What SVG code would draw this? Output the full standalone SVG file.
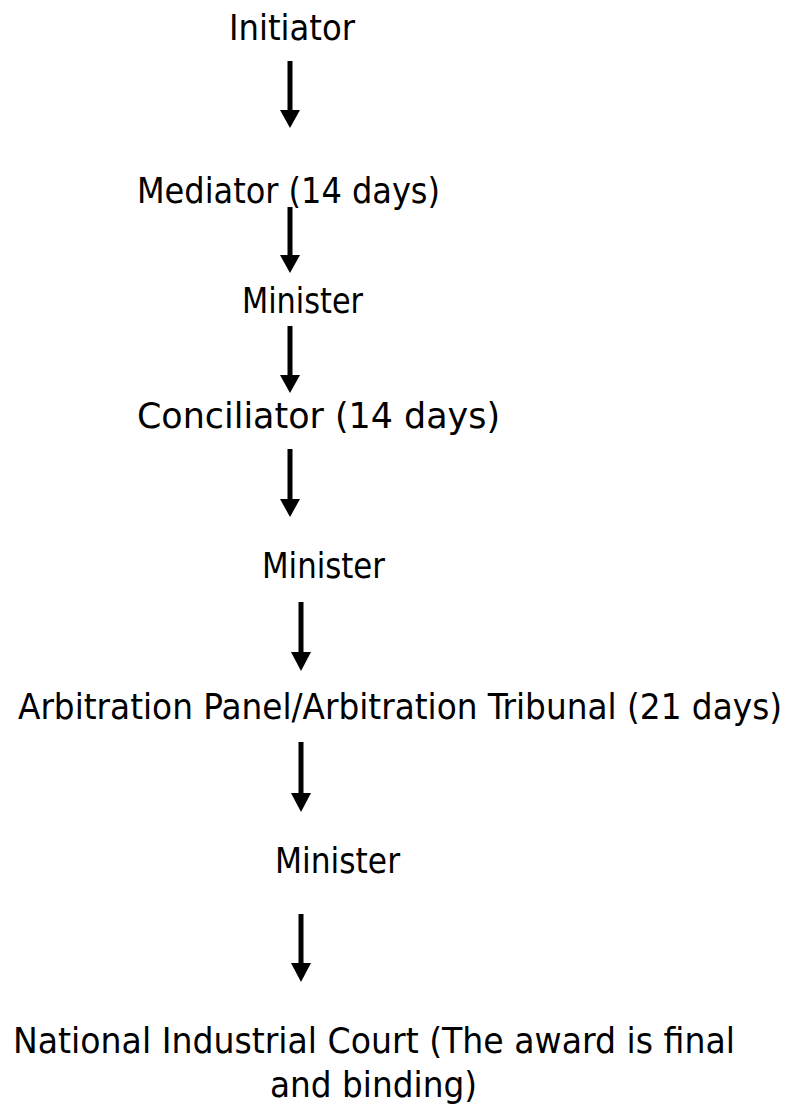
<svg xmlns="http://www.w3.org/2000/svg" width="796" height="1113" viewBox="0 0 796 1113">
<style>
text{font-family:"DejaVu Sans Condensed","DejaVu Sans","Liberation Sans",sans-serif;font-stretch:condensed;font-size:35px;fill:#000}
.shaft{stroke:#000;stroke-width:5;fill:none}
.head{fill:#000;stroke:none}
</style>
<rect width="796" height="1113" fill="#fff"/>
<g id="connectors">
<g id="a1"><line class="shaft" x1="290" y1="61" x2="290" y2="112"/><polygon class="head" points="280,110 300,110 290,128"/></g>
<g id="a2"><line class="shaft" x1="290" y1="207" x2="290" y2="257"/><polygon class="head" points="280,255 300,255 290,273"/></g>
<g id="a3"><line class="shaft" x1="290" y1="326" x2="290" y2="377"/><polygon class="head" points="280,375 300,375 290,393"/></g>
<g id="a4"><line class="shaft" x1="290" y1="449" x2="290" y2="501"/><polygon class="head" points="280,499 300,499 290,517"/></g>
<g id="a5"><line class="shaft" x1="301" y1="602" x2="301" y2="655"/><polygon class="head" points="291,652 311,652 301,671"/></g>
<g id="a6"><line class="shaft" x1="301" y1="742" x2="301" y2="796"/><polygon class="head" points="291,793 311,793 301,812"/></g>
<g id="a7"><line class="shaft" x1="301" y1="914" x2="301" y2="966"/><polygon class="head" points="291,963 311,963 301,982"/></g>
</g>
<g id="n1"><text x="229" y="40" textLength="126" lengthAdjust="spacingAndGlyphs">Initiator</text></g>
<g id="n2"><text x="137" y="203" textLength="303" lengthAdjust="spacingAndGlyphs">Mediator (14 days)</text></g>
<g id="n3"><text x="242" y="313" textLength="121" lengthAdjust="spacingAndGlyphs">Minister</text></g>
<g id="n4"><text x="137" y="428" textLength="363" lengthAdjust="spacingAndGlyphs">Conciliator (14 days)</text></g>
<g id="n5"><text x="262" y="578" textLength="123" lengthAdjust="spacingAndGlyphs">Minister</text></g>
<g id="n6"><text x="18" y="719" textLength="764" lengthAdjust="spacingAndGlyphs">Arbitration Panel/Arbitration Tribunal (21 days)</text></g>
<g id="n7"><text x="275" y="873" textLength="125" lengthAdjust="spacingAndGlyphs">Minister</text></g>
<g id="n8"><text x="13" y="1053" textLength="722" lengthAdjust="spacingAndGlyphs">National Industrial Court (The award is final</text><text x="270" y="1097" textLength="207" lengthAdjust="spacingAndGlyphs">and binding)</text></g>
</svg>
